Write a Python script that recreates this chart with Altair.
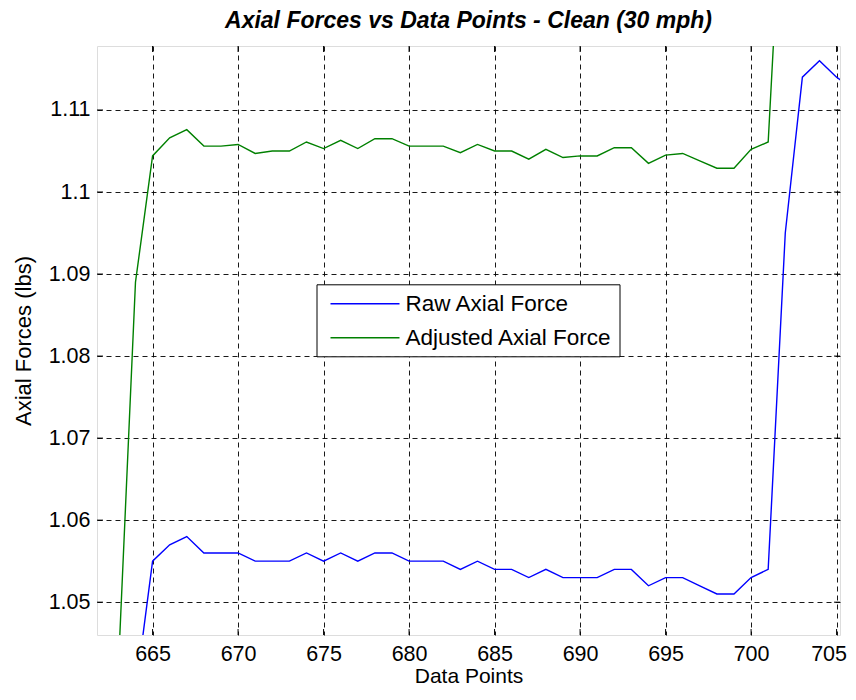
import altair as alt
import pandas as pd

raw_x = list(range(663, 707))
raw_y = [0.992, 1.039, 1.055, 1.057, 1.058, 1.056, 1.056, 1.056, 1.055, 1.055,
         1.055, 1.056, 1.055, 1.056, 1.055, 1.056, 1.056, 1.055, 1.055, 1.055,
         1.054, 1.055, 1.054, 1.054, 1.053, 1.054, 1.053, 1.053, 1.053, 1.054,
         1.054, 1.052, 1.053, 1.053, 1.052, 1.051, 1.051, 1.053, 1.054, 1.095,
         1.114, 1.116, 1.114, 1.1125]

adj_x = list(range(663, 703))
adj_y = [1.042, 1.089, 1.1044, 1.1066, 1.1076, 1.1056, 1.1056, 1.1058, 1.1047, 1.1050,
         1.1050, 1.1061, 1.1053, 1.1063, 1.1053, 1.1065, 1.1065, 1.1056, 1.1056, 1.1056,
         1.1048, 1.1058, 1.1050, 1.1050, 1.1040, 1.1052, 1.1042, 1.1044, 1.1044, 1.1054,
         1.1054, 1.1035, 1.1045, 1.1047, 1.1038, 1.1029, 1.1029, 1.1052, 1.1061, 1.145]

series_names = ["Raw Axial Force", "Adjusted Axial Force"]
series_colors = ["#0000ff", "#008000"]

x_ticks = [665, 670, 675, 680, 685, 690, 695, 700, 705]
y_ticks = [1.05, 1.06, 1.07, 1.08, 1.09, 1.10, 1.11]

x_domain = [661.75, 705.2]
y_domain = [1.046, 1.1178]

W, H = 743, 589
FONT = "Liberation Sans"

df = pd.concat([
    pd.DataFrame({"x": raw_x, "y": raw_y, "series": series_names[0], "order": 0}),
    pd.DataFrame({"x": adj_x, "y": adj_y, "series": series_names[1], "order": 1}),
])

xs = alt.Scale(domain=x_domain, nice=False, zero=False)
ys = alt.Scale(domain=y_domain, nice=False, zero=False)

x_axis = alt.Axis(values=x_ticks, grid=True, gridDash=[5, 4], gridColor="#000000",
                  gridOpacity=0.9, ticks=False, domain=False, labelFontSize=21.5,
                  labelFont=FONT, labelColor="#000000", labelPadding=8,
                  labelOffset=alt.ConditionalAxisNumber(
                      condition={"test": "datum.value >= 705", "value": -8}, value=0),
                  title="Data Points", titleFont=FONT, titleFontSize=21,
                  titleFontWeight="normal", titleColor="#000000", titlePadding=1)
y_axis = alt.Axis(values=y_ticks, grid=True, gridDash=[5, 4], gridColor="#000000",
                  gridOpacity=0.9, ticks=False, domain=False, labelFontSize=21.5,
                  labelFont=FONT, labelColor="#000000", labelPadding=7, format=".2~f",
                  title="Axial Forces (lbs)", titleFont=FONT, titleFontSize=22,
                  titleFontWeight="normal", titleColor="#000000", titlePadding=13)

lines = alt.Chart(df).mark_line(strokeWidth=1.4, clip=True).encode(
    x=alt.X("x:Q", scale=xs, axis=x_axis),
    y=alt.Y("y:Q", scale=ys, axis=y_axis),
    color=alt.Color("series:N", scale=alt.Scale(domain=series_names, range=series_colors),
                    legend=alt.Legend(orient="none", legendX=219.5, legendY=238.3, title=None,
                                      symbolType="M-3,0H3", symbolSize=529,
                                      symbolStrokeWidth=1.4, symbolOffset=29,
                                      labelFontSize=22.5, labelFont=FONT, labelColor="#000000",
                                      strokeColor="#000000", fillColor="#ffffff",
                                      padding=7, rowPadding=10, labelOffset=28,
                                      labelLimit=400)),
    detail="series:N",
    order="order:Q",
)

xt = pd.DataFrame({"v": x_ticks})
yt = pd.DataFrame({"v": y_ticks})
tick_style = dict(color="#000000", strokeWidth=1)
xb = alt.Chart(xt).mark_rule(**tick_style).encode(
    x=alt.X("v:Q", scale=xs), y=alt.value(H - 6), y2=alt.value(H))
xtp = alt.Chart(xt).mark_rule(**tick_style).encode(
    x=alt.X("v:Q", scale=xs), y=alt.value(0), y2=alt.value(6))
yl = alt.Chart(yt).mark_rule(**tick_style).encode(
    y=alt.Y("v:Q", scale=ys), x=alt.value(0), x2=alt.value(6))
yr = alt.Chart(yt).mark_rule(**tick_style).encode(
    y=alt.Y("v:Q", scale=ys), x=alt.value(W - 6), x2=alt.value(W))

chart = alt.layer(lines, xb, xtp, yl, yr).properties(
    width=W, height=H,
    title=alt.TitleParams("Axial Forces vs Data Points - Clean (30 mph)", font=FONT,
                          fontSize=23, fontWeight="bold", fontStyle="italic",
                          color="#000000", anchor="middle", offset=13),
    autosize=alt.AutoSizeParams(type="none"),
    padding={"left": 89, "top": 38, "right": 8, "bottom": 52},
).configure_view(stroke="#000000", strokeWidth=1.3).configure(background="#ffffff")

chart.save("out.html", embed_options={"renderer": "svg", "actions": False})
